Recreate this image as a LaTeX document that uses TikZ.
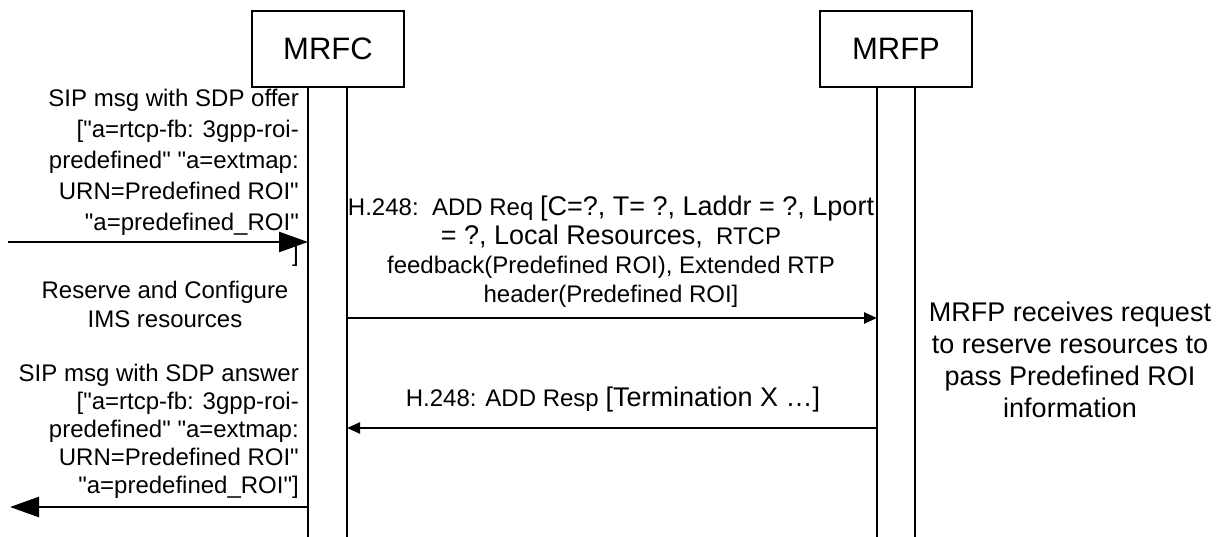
\documentclass[tikz,border=0pt]{standalone}
\usepackage{fontspec}
\setmainfont{Liberation Sans}
\newfontfamily\lsans{Liberation Sans}
\usetikzlibrary{arrows.meta}
\begin{document}
\begin{tikzpicture}[x=1pt,y=-1pt,
  ent/.style={draw, line width=1.3pt, minimum width=152pt, minimum height=76pt, inner sep=0pt, font=\lsans\fontsize{31}{36}\selectfont},
  life/.style={line width=1.1pt},
  sipmsg/.style={line width=2.6pt, -{Triangle[length=29pt,width=20pt]}},
  hmsg/.style={line width=2.4pt, -{Triangle[length=13pt,width=11pt]}},
  lbl/.style={inner sep=0pt, font=\lsans\fontsize{24}{31}\selectfont}]
\useasboundingbox (0,0) rectangle (1222,537);
\fill[white] (0,0) rectangle (1222,537);
% entities
\node[ent] (mrfc) at (328,49) {MRFC};
\node[ent] (mrfp) at (896,49) {MRFP};
% lifelines
\coordinate (c1t) at (308,87); \coordinate (c1b) at (308,537);
\coordinate (c2t) at (347,87); \coordinate (c2b) at (347,537);
\coordinate (p1t) at (877,87); \coordinate (p1b) at (877,537);
\coordinate (p2t) at (915,87); \coordinate (p2b) at (915,537);
\draw[life] (c1t) -- (c1b);
\draw[life] (c2t) -- (c2b);
\draw[life] (p1t) -- (p1b);
\draw[life] (p2t) -- (p2b);
% message end points
\coordinate (in0) at (8,242);   \coordinate (c1in) at (308,242);
\coordinate (c1out) at (308,507); \coordinate (out0) at (10,507);
\coordinate (c2req) at (347,318); \coordinate (p1req) at (877,318);
\coordinate (p1resp) at (877,428); \coordinate (c2resp) at (347,428);
% arrows
\draw[sipmsg] (in0) -- (c1in);
\draw[sipmsg] (c1out) -- (out0);
\draw[hmsg] (c2req) -- (p1req);
\draw[hmsg] (p1resp) -- (c2resp);
% labels
\node[lbl, align=right, anchor=east] (offer) at (299,177.5)
  {SIP msg with SDP offer\\{[}"a=rtcp-fb: 3gpp-roi-\\predefined" "a=extmap:\\URN=Predefined ROI"\\"a=predefined\_ROI"\\{]}};
\node[lbl, align=center, font=\lsans\fontsize{24}{29}\selectfont] (res) at (165,304.5)
  {Reserve and Configure\\IMS resources};
\node[lbl, align=right, anchor=east, font=\lsans\fontsize{24}{28}\selectfont] (ans) at (299,431)
  {SIP msg with SDP answer\\{[}"a=rtcp-fb: 3gpp-roi-\\predefined" "a=extmap:\\URN=Predefined ROI"\\"a=predefined\_ROI"{]}};
\node[lbl, align=center, font=\lsans\fontsize{24}{29}\selectfont] (req) at (611,252)
  {H.248:\ \ ADD Req {\fontsize{27}{29}\selectfont {[}C=?, T= ?, Laddr = ?, Lport}\\{\fontsize{27}{29}\selectfont = ?, Local Resources,}\ \ RTCP\\feedback(Predefined ROI), Extended RTP\\header(Predefined ROI{]}};
\node[lbl] (resp) at (613,400)
  {H.248: ADD Resp {\fontsize{27}{30}\selectfont {[}Termination X …{]}}};
\node[lbl, align=center, font=\lsans\fontsize{27}{32}\selectfont] (note) at (1070,360)
  {MRFP receives request\\to reserve resources to\\pass Predefined ROI\\information};
\end{tikzpicture}
\end{document}
